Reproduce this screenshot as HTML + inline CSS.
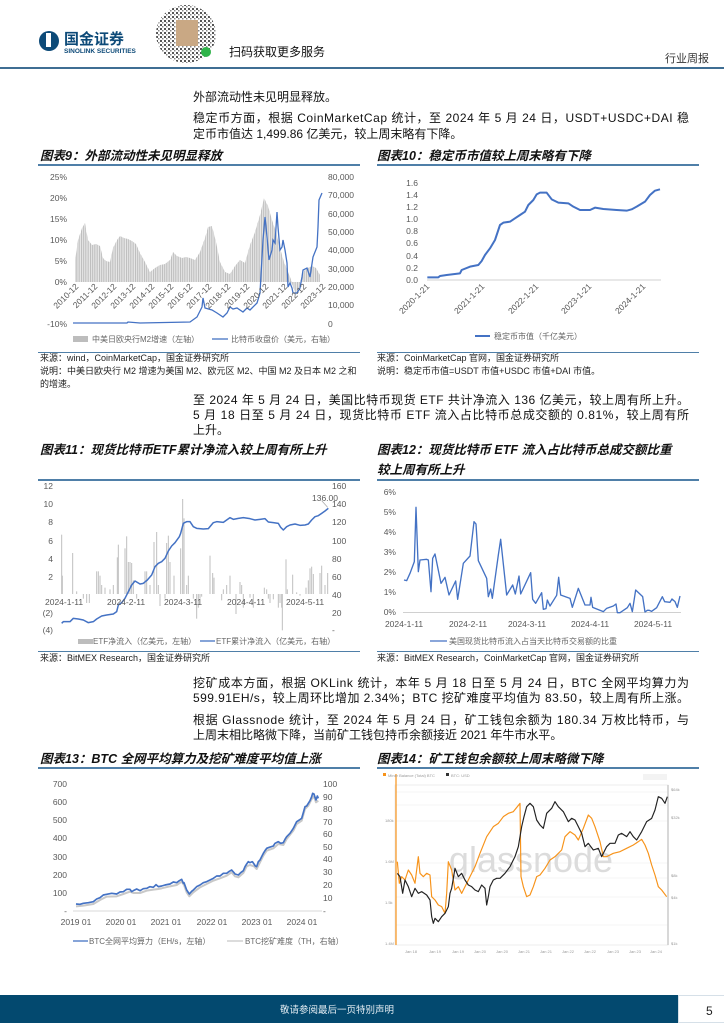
<!DOCTYPE html>
<html><head><meta charset="utf-8"><style>
html,body{margin:0;padding:0;background:#fff;}
svg{display:block;}
.t{font-family:"Liberation Sans","Noto Sans CJK SC",sans-serif;}
.b{font-size:12px;fill:#111;}
.h{font-size:12.5px;font-weight:bold;font-style:italic;fill:#111;}
.ax{font-size:8.5px;fill:#595959;}
.s{font-size:9px;fill:#222;}
.lg{font-size:8px;fill:#666;}
</style></head><body>
<svg width="724" height="1024" viewBox="0 0 724 1024" xmlns="http://www.w3.org/2000/svg" class="t">
<defs>
<pattern id="bars" width="1.8" height="10" patternUnits="userSpaceOnUse"><rect x="0" y="0" width="1.2" height="10" fill="#bdbdbd"/></pattern>
<pattern id="qr" width="4" height="4" patternUnits="userSpaceOnUse"><rect x="0" y="0" width="2" height="2" fill="#555"/><rect x="2" y="2" width="1.5" height="1.5" fill="#888"/></pattern>
</defs>
<!-- header -->
<circle cx="49" cy="41" r="10" fill="#0d4a78"/>
<rect x="46" y="33" width="5" height="14" fill="#fff"/>
<text x="64" y="44" font-size="15" font-weight="bold" fill="#0d4a78">国金证券</text>
<text x="64" y="53" font-size="6.5" font-weight="bold" fill="#0d4a78">SINOLINK SECURITIES</text>
<ellipse cx="186" cy="34" rx="30" ry="29" fill="url(#qr)"/>
<rect x="176" y="20" width="22" height="26" fill="#c9a884"/>
<circle cx="206" cy="52" r="5" fill="#2fb44a"/>
<text x="229" y="56" font-size="12" fill="#111">扫码获取更多服务</text>
<text x="665" y="62" font-size="11" fill="#333">行业周报</text>
<rect x="0" y="67" width="724" height="2" fill="#3f6e93"/>

<!-- para 1 -->
<text x="193" y="101" class="b">外部流动性未见明显释放。</text>
<text x="193" y="122" class="b" textLength="496" lengthAdjust="spacing">稳定币方面，根据 CoinMarketCap 统计，至 2024 年 5 月 24 日，USDT+USDC+DAI 稳</text>
<text x="193" y="138" class="b">定币市值达 1,499.86 亿美元，较上周末略有下降。</text>

<!-- titles 9/10 -->
<text x="40" y="160" class="h">图表9：外部流动性未见明显释放</text>
<text x="377" y="160" class="h">图表10：稳定币市值较上周末略有下降</text>
<rect x="38" y="164" width="322" height="2" fill="#4f7fa8"/>
<rect x="377" y="164" width="322" height="2" fill="#4f7fa8"/>

<!-- chart 9 -->
<polygon fill="url(#bars)" points="75,282 75,261 78,240 82,228 85,223 88,240 92,245 96,244 100,246 103,258 106,261 110,262 113,248 117,240 120,236 124,238 128,239 132,241 136,244 140,253 145,262 150,272 155,268 160,265 165,264 170,260 173,252 177,256 182,258 186,257 190,258 195,260 200,252 205,238 208,227 212,226 216,242 220,262 225,272 230,274 235,266 240,260 245,263 250,245 255,232 260,215 264,198 268,206 272,220 276,232 280,248 284,262 288,272 292,282 320,282 320,275 316,268 312,266 308,268 304,271 300,282"/>
<polygon fill="url(#bars)" points="290,282 292,284 296,295 300,285 300,282"/>
<polyline fill="none" stroke="#4472c4" stroke-width="1.3" points="73,323 127,323 128,322 140,323 190,322 197,317 202,307 203,298 205,308 212,310 217,313 223,317 227,313 230,307 233,309 237,308 243,312 247,308 250,310 257,303 260,293 263,240 265,217 267,237 269,260 272,250 273,240 275,243 277,212 278,227 280,250 282,247 283,240 285,250 287,263 288,287 290,283 292,288 293,293 297,293 300,288 302,277 303,270 307,268 310,277 313,257 317,247 318,227 319,200 322,193"/>
<g class="ax" text-anchor="end">
<text x="67" y="180">25%</text><text x="67" y="201">20%</text><text x="67" y="222">15%</text><text x="67" y="243">10%</text><text x="67" y="264">5%</text><text x="67" y="285">0%</text><text x="67" y="327">-10%</text>
</g>
<g class="ax">
<text x="328" y="180">80,000</text><text x="328" y="198">70,000</text><text x="328" y="217">60,000</text><text x="328" y="235">50,000</text><text x="328" y="253">40,000</text><text x="328" y="272">30,000</text><text x="328" y="290">20,000</text><text x="328" y="308">10,000</text><text x="328" y="327">0</text>
</g>
<g class="ax" text-anchor="end" font-size="8">
<text transform="translate(79,287) rotate(-45)">2010-12</text>
<text transform="translate(98,287) rotate(-45)">2011-12</text>
<text transform="translate(117,287) rotate(-45)">2012-12</text>
<text transform="translate(136,287) rotate(-45)">2013-12</text>
<text transform="translate(155,287) rotate(-45)">2014-12</text>
<text transform="translate(174,287) rotate(-45)">2015-12</text>
<text transform="translate(193,287) rotate(-45)">2016-12</text>
<text transform="translate(212,287) rotate(-45)">2017-12</text>
<text transform="translate(231,287) rotate(-45)">2018-12</text>
<text transform="translate(250,287) rotate(-45)">2019-12</text>
<text transform="translate(269,287) rotate(-45)">2020-12</text>
<text transform="translate(288,287) rotate(-45)">2021-12</text>
<text transform="translate(307,287) rotate(-45)">2022-12</text>
<text transform="translate(326,287) rotate(-45)">2023-12</text>
</g>
<rect x="73" y="336" width="15" height="6" fill="#bdbdbd"/>
<text x="92" y="342" class="lg">中美日欧央行M2增速（左轴）</text>
<line x1="212" y1="339" x2="228" y2="339" stroke="#4472c4" stroke-width="1.3"/>
<text x="231" y="342" class="lg">比特币收盘价（美元，右轴）</text>
<rect x="38" y="352" width="322" height="1" fill="#4f7fa8"/>
<text x="40" y="361" class="s">来源：wind，CoinMarketCap，国金证券研究所</text>
<text x="40" y="374" class="s">说明：中美日欧央行 M2 增速为美国 M2、欧元区 M2、中国 M2 及日本 M2 之和</text>
<text x="40" y="387" class="s">的增速。</text>

<!-- chart 10 -->
<line x1="427" y1="280" x2="661" y2="280" stroke="#d0d0d0" stroke-width="1"/>
<g class="ax" text-anchor="end" font-size="9.5">
<text x="418" y="186">1.6</text><text x="418" y="198">1.4</text><text x="418" y="210">1.2</text><text x="418" y="222">1.0</text><text x="418" y="234">0.8</text><text x="418" y="246">0.6</text><text x="418" y="259">0.4</text><text x="418" y="271">0.2</text><text x="418" y="283">0.0</text>
</g>
<g class="ax" text-anchor="end" font-size="9">
<text transform="translate(430,287) rotate(-45)">2020-1-21</text>
<text transform="translate(485,287) rotate(-45)">2021-1-21</text>
<text transform="translate(539,287) rotate(-45)">2022-1-21</text>
<text transform="translate(592,287) rotate(-45)">2023-1-21</text>
<text transform="translate(646,287) rotate(-45)">2024-1-21</text>
</g>
<g transform="translate(370,160) scale(0.33333)">
<polyline fill="none" stroke="#4472c4" stroke-width="6" stroke-linejoin="round" points="172,352 205,352 210,348 230,345 270,340 275,330 300,320 325,315 335,303 345,285 360,265 375,240 385,210 390,195 400,188 420,185 435,175 450,165 465,155 475,135 490,120 500,103 510,98 530,98 545,118 565,128 595,130 610,140 630,150 660,150 675,143 700,147 740,150 770,152 785,148 800,140 825,125 840,105 855,92 870,88"/>
</g>
<line x1="475" y1="336" x2="490" y2="336" stroke="#4472c4" stroke-width="2"/>
<text x="494" y="339" class="lg" font-size="8.5">稳定币市值（千亿美元）</text>
<rect x="377" y="352" width="322" height="1" fill="#4f7fa8"/>
<text x="377" y="361" class="s">来源：CoinMarketCap 官网，国金证券研究所</text>
<text x="377" y="374" class="s">说明：稳定币市值=USDT 市值+USDC 市值+DAI 市值。</text>

<!-- para 2 -->
<text x="193" y="404" class="b" textLength="496" lengthAdjust="spacing">至 2024 年 5 月 24 日，美国比特币现货 ETF 共计净流入 136 亿美元，较上周有所上升。</text>
<text x="193" y="419" class="b" textLength="496" lengthAdjust="spacing">5 月 18 日至 5 月 24 日，现货比特币 ETF 流入占比特币总成交额的 0.81%，较上周有所</text>
<text x="193" y="434" class="b">上升。</text>

<text x="40" y="454" class="h">图表11：现货比特币ETF累计净流入较上周有所上升</text>
<text x="377" y="454" class="h">图表12：现货比特币 ETF 流入占比特币总成交额比重</text>
<text x="377" y="474" class="h">较上周有所上升</text>
<rect x="38" y="479" width="322" height="2" fill="#4f7fa8"/>
<rect x="377" y="479" width="322" height="2" fill="#4f7fa8"/>

<!-- chart 11 -->
<g transform="translate(30,470) scale(0.33333)" stroke="#bfbfbf" stroke-width="3">
<line x1="95" y1="372" x2="95" y2="194"/><line x1="97" y1="372" x2="97" y2="317"/><line x1="128" y1="372" x2="128" y2="249"/><line x1="140" y1="372" x2="140" y2="364"/><line x1="160" y1="372" x2="160" y2="386"/><line x1="170" y1="372" x2="170" y2="399"/><line x1="178" y1="372" x2="178" y2="399"/><line x1="200" y1="372" x2="200" y2="304"/><line x1="205" y1="372" x2="205" y2="304"/><line x1="210" y1="372" x2="210" y2="317"/><line x1="215" y1="372" x2="215" y2="345"/><line x1="225" y1="372" x2="225" y2="353"/><line x1="240" y1="372" x2="240" y2="358"/><line x1="250" y1="372" x2="250" y2="345"/><line x1="262" y1="372" x2="262" y2="262"/><line x1="265" y1="372" x2="265" y2="224"/><line x1="285" y1="372" x2="285" y2="235"/><line x1="290" y1="372" x2="290" y2="199"/><line x1="295" y1="372" x2="295" y2="276"/><line x1="300" y1="372" x2="300" y2="276"/><line x1="305" y1="372" x2="305" y2="279"/><line x1="310" y1="372" x2="310" y2="331"/><line x1="320" y1="372" x2="320" y2="386"/><line x1="345" y1="372" x2="345" y2="304"/><line x1="350" y1="372" x2="350" y2="304"/><line x1="360" y1="372" x2="360" y2="345"/><line x1="372" y1="372" x2="372" y2="216"/><line x1="380" y1="372" x2="380" y2="186"/><line x1="385" y1="372" x2="385" y2="345"/><line x1="390" y1="372" x2="390" y2="408"/><line x1="405" y1="372" x2="405" y2="386"/><line x1="410" y1="372" x2="410" y2="219"/><line x1="415" y1="372" x2="415" y2="197"/><line x1="420" y1="372" x2="420" y2="276"/><line x1="432" y1="372" x2="432" y2="317"/><line x1="452" y1="372" x2="452" y2="235"/><line x1="458" y1="372" x2="458" y2="87"/><line x1="462" y1="372" x2="462" y2="145"/><line x1="470" y1="372" x2="470" y2="345"/><line x1="475" y1="372" x2="475" y2="317"/><line x1="490" y1="372" x2="490" y2="386"/><line x1="500" y1="372" x2="500" y2="446"/><line x1="505" y1="372" x2="505" y2="413"/><line x1="510" y1="372" x2="510" y2="386"/><line x1="515" y1="372" x2="515" y2="380"/><line x1="540" y1="372" x2="540" y2="257"/><line x1="548" y1="372" x2="548" y2="309"/><line x1="552" y1="372" x2="552" y2="323"/><line x1="575" y1="372" x2="575" y2="391"/><line x1="580" y1="372" x2="580" y2="358"/><line x1="590" y1="372" x2="590" y2="345"/><line x1="600" y1="372" x2="600" y2="317"/><line x1="618" y1="372" x2="618" y2="432"/><line x1="630" y1="372" x2="630" y2="336"/><line x1="635" y1="372" x2="635" y2="345"/><line x1="640" y1="372" x2="640" y2="413"/><line x1="660" y1="372" x2="660" y2="383"/><line x1="670" y1="372" x2="670" y2="413"/><line x1="703" y1="372" x2="703" y2="353"/><line x1="710" y1="372" x2="710" y2="358"/><line x1="715" y1="372" x2="715" y2="386"/><line x1="720" y1="372" x2="720" y2="399"/><line x1="730" y1="372" x2="730" y2="388"/><line x1="745" y1="372" x2="745" y2="413"/><line x1="750" y1="372" x2="750" y2="399"/><line x1="755" y1="372" x2="755" y2="413"/><line x1="757" y1="372" x2="757" y2="481"/><line x1="768" y1="372" x2="768" y2="268"/><line x1="772" y1="372" x2="772" y2="358"/><line x1="788" y1="372" x2="788" y2="314"/><line x1="800" y1="372" x2="800" y2="367"/><line x1="810" y1="372" x2="810" y2="377"/><line x1="828" y1="372" x2="828" y2="353"/><line x1="835" y1="372" x2="835" y2="331"/><line x1="840" y1="372" x2="840" y2="295"/><line x1="845" y1="372" x2="845" y2="290"/><line x1="850" y1="372" x2="850" y2="312"/><line x1="870" y1="372" x2="870" y2="309"/><line x1="875" y1="372" x2="875" y2="287"/><line x1="885" y1="372" x2="885" y2="345"/><line x1="893" y1="372" x2="893" y2="309"/>
<polyline fill="none" stroke="#4472c4" stroke-width="4.5" stroke-linejoin="round" points="95,460 100,455 120,455 130,445 145,447 160,450 175,458 190,455 200,447 215,438 230,435 250,432 260,425 265,405 275,398 285,385 295,365 305,345 315,333 330,342 340,340 352,330 365,315 375,290 385,280 395,275 405,265 415,243 425,228 435,218 448,200 452,190 460,160 470,155 480,155 490,170 500,175 520,177 535,176 550,158 560,155 580,157 590,150 600,143 610,148 625,145 640,143 660,146 675,150 690,148 705,146 715,156 730,158 745,160 752,172 760,180 770,170 780,165 795,162 810,166 825,165 835,162 845,150 855,140 865,137 875,130 885,123 895,115"/>
<line x1="875" y1="92" x2="893" y2="112" stroke="#999" stroke-width="2"/>
</g>
<text x="312" y="501" class="ax" font-size="8">136.00</text>
<g class="ax" text-anchor="end" font-size="8">
<text x="53" y="489">12</text><text x="53" y="507">10</text><text x="53" y="525">8</text><text x="53" y="544">6</text><text x="53" y="562">4</text><text x="53" y="580">2</text><text x="53" y="616">(2)</text><text x="53" y="633">(4)</text>
</g>
<g class="ax" font-size="8">
<text x="332" y="489">160</text><text x="332" y="507">140</text><text x="332" y="525">120</text><text x="332" y="544">100</text><text x="332" y="562">80</text><text x="332" y="580">60</text><text x="332" y="598">40</text><text x="332" y="616">20</text><text x="332" y="633">-</text>
<text x="45" y="605">2024-1-11</text><text x="107" y="605">2024-2-11</text><text x="164" y="605">2024-3-11</text><text x="227" y="605">2024-4-11</text><text x="286" y="605">2024-5-11</text>
</g>
<rect x="78" y="639" width="15" height="5" fill="#bdbdbd"/>
<text x="93" y="644" class="lg" font-size="7.5">ETF净流入（亿美元，左轴）</text>
<line x1="200" y1="641" x2="215" y2="641" stroke="#4472c4" stroke-width="1.3"/>
<text x="216" y="644" class="lg" font-size="7.5">ETF累计净流入（亿美元，右轴）</text>
<rect x="38" y="651" width="322" height="1" fill="#4f7fa8"/>
<text x="40" y="661" class="s">来源：BitMEX Research，国金证券研究所</text>

<!-- chart 12 -->
<line x1="403" y1="612.5" x2="681" y2="612.5" stroke="#d0d0d0"/>
<g class="ax" text-anchor="end" font-size="9">
<text x="396" y="495">6%</text><text x="396" y="515">5%</text><text x="396" y="535">4%</text><text x="396" y="555">3%</text><text x="396" y="575">2%</text><text x="396" y="595">1%</text><text x="396" y="615">0%</text>
</g>
<g class="ax" text-anchor="middle" font-size="9">
<text x="404" y="627">2024-1-11</text><text x="468" y="627">2024-2-11</text><text x="527" y="627">2024-3-11</text><text x="590" y="627">2024-4-11</text><text x="653" y="627">2024-5-11</text>
</g>
<g transform="translate(370,470) scale(0.33333)">
<polyline fill="none" stroke="#4472c4" stroke-width="4" stroke-linejoin="round" points="102,330 110,332 120,310 133,275 138,112 145,305 150,270 170,268 175,270 183,365 188,265 195,252 213,340 225,322 237,375 257,333 263,388 280,280 300,258 312,155 318,162 325,272 350,325 355,380 362,357 367,385 385,255 392,208 410,375 428,345 436,372 447,318 452,372 482,308 488,388 497,400 515,368 520,418 528,416 532,390 540,408 560,376 566,322 572,375 600,385 607,412 625,355 645,405 660,405 663,382 668,412 700,425 710,415 730,408 738,402 742,428 750,428 772,413 780,400 787,425 797,360 818,380 825,426 832,421 838,421 845,424 860,413 877,380 884,395 900,397 906,387 915,395 922,412 930,378"/>
</g>
<line x1="430" y1="641" x2="447" y2="641" stroke="#4472c4" stroke-width="1.3"/>
<text x="449" y="644" class="lg" font-size="8">美国现货比特币流入占当天比特币交易额的比重</text>
<rect x="377" y="651" width="322" height="1" fill="#4f7fa8"/>
<text x="377" y="661" class="s">来源：BitMEX Research，CoinMarketCap 官网，国金证券研究所</text>

<!-- para 3 -->
<text x="193" y="687" class="b" textLength="496" lengthAdjust="spacing">挖矿成本方面，根据 OKLink 统计，本年 5 月 18 日至 5 月 24 日，BTC 全网平均算力为</text>
<text x="193" y="702" class="b" textLength="496" lengthAdjust="spacing">599.91EH/s，较上周环比增加 2.34%；BTC 挖矿难度平均值为 83.50，较上周有所上涨。</text>
<text x="193" y="724" class="b" textLength="496" lengthAdjust="spacing">根据 Glassnode 统计，至 2024 年 5 月 24 日，矿工钱包余额为 180.34 万枚比特币，与</text>
<text x="193" y="739" class="b">上周末相比略微下降，当前矿工钱包持币余额接近 2021 年牛市水平。</text>

<text x="40" y="763" class="h">图表13：BTC 全网平均算力及挖矿难度平均值上涨</text>
<text x="377" y="763" class="h">图表14：矿工钱包余额较上周末略微下降</text>
<rect x="38" y="767" width="322" height="2" fill="#4f7fa8"/>
<rect x="377" y="767" width="322" height="2" fill="#4f7fa8"/>

<!-- chart 13 -->
<line x1="73" y1="911" x2="322" y2="911" stroke="#d9d9d9"/>
<g transform="translate(30,760) scale(0.33333)" fill="none" stroke-linejoin="round">
<polyline stroke="#c8c8c8" stroke-width="6" transform="translate(0,7)" points="138,432 160,430 190,425 210,413 230,403 260,402 280,395 300,388 310,392 330,392 350,385 370,382 385,380 395,378 420,372 440,368 455,358 462,368 470,390 478,402 490,390 510,375 530,365 550,355 570,348 590,340 605,330 615,342 625,345 640,332 650,312 660,308 672,312 680,320 690,300 700,280 710,265 730,258 745,245 760,248 770,230 790,205 800,185 815,175 825,140 835,130 845,110 852,102 858,120 865,115"/>
<polyline stroke="#4472c4" stroke-width="5" points="138,432 150,433 160,430 175,428 190,425 200,417 210,413 220,405 230,403 245,400 260,402 270,396 280,395 290,388 300,388 305,395 310,392 320,387 330,392 340,386 350,385 360,380 370,382 378,374 385,380 395,378 405,375 420,372 430,366 440,368 448,362 455,358 460,370 462,368 470,390 478,402 485,394 490,390 500,380 510,375 520,368 530,365 540,360 550,355 560,348 570,348 580,340 590,340 598,334 605,330 612,338 615,342 625,345 632,338 640,332 645,320 650,312 655,305 660,308 667,305 672,312 676,318 680,320 685,305 690,300 695,290 700,280 705,272 710,265 718,262 730,258 735,250 745,245 752,250 760,248 765,238 770,230 780,220 790,205 795,195 800,185 808,180 815,175 820,158 825,140 830,138 835,130 840,122 845,110 848,100 852,102 855,112 858,120 862,108 865,115"/>
</g>
<g class="ax" text-anchor="end" font-size="9.5">
<text x="67" y="787">700</text><text x="67" y="805">600</text><text x="67" y="823">500</text><text x="67" y="841">400</text><text x="67" y="860">300</text><text x="67" y="878">200</text><text x="67" y="896">100</text><text x="67" y="914">-</text>
</g>
<g class="ax" font-size="9.5">
<text x="323" y="787">100</text><text x="323" y="800">90</text><text x="323" y="812">80</text><text x="323" y="825">70</text><text x="323" y="837">60</text><text x="323" y="850">50</text><text x="323" y="862">40</text><text x="323" y="875">30</text><text x="323" y="888">20</text><text x="323" y="901">10</text><text x="323" y="914">-</text>
</g>
<g class="ax" text-anchor="middle" font-size="9.5">
<text x="76" y="925">2019 01</text><text x="121" y="925">2020 01</text><text x="166" y="925">2021 01</text><text x="212" y="925">2022 01</text><text x="257" y="925">2023 01</text><text x="302" y="925">2024 01</text>
</g>
<line x1="73" y1="941" x2="88" y2="941" stroke="#4472c4" stroke-width="1.3"/>
<text x="89" y="944" class="lg" font-size="8.5">BTC全网平均算力（EH/s，左轴）</text>
<line x1="227" y1="941" x2="243" y2="941" stroke="#c8c8c8" stroke-width="1.3"/>
<text x="245" y="944" class="lg" font-size="8.5">BTC挖矿难度（TH，右轴）</text>

<!-- chart 14 -->
<rect x="395" y="785" width="273" height="160" fill="#fff" stroke="#eee"/>
<g stroke="#f0f0f0" stroke-width="0.8">
<line x1="395" y1="792" x2="668" y2="792"/><line x1="395" y1="805" x2="668" y2="805"/><line x1="395" y1="821" x2="668" y2="821"/><line x1="395" y1="863" x2="668" y2="863"/><line x1="395" y1="878" x2="668" y2="878"/><line x1="395" y1="897" x2="668" y2="897"/><line x1="395" y1="925" x2="668" y2="925"/>
</g>
<line x1="668" y1="785" x2="668" y2="945" stroke="#ccc" stroke-width="1.5"/>
<text x="531" y="872" text-anchor="middle" font-size="36" fill="#dcdcdc">glassnode</text>
<line x1="396" y1="774" x2="396" y2="945" stroke="#f7931a" stroke-width="1.2"/>
<rect x="383" y="773" width="3" height="3" fill="#f7931a"/>
<text x="388" y="777" font-size="4" fill="#999">Miner Balance (Total) BTC</text>
<rect x="446" y="773" width="3" height="3" fill="#333"/>
<text x="451" y="777" font-size="4" fill="#999">BTC: USD</text>
<rect x="643" y="774" width="24" height="6" fill="#f3f3f3"/>
<g transform="translate(380,760) scale(0.33333)" fill="none" stroke-linejoin="round">
<polyline stroke="#f7931a" stroke-width="3.5" points="52,305 58,370 65,350 75,360 85,330 95,345 105,370 115,290 120,340 130,350 140,340 150,345 155,410 165,420 175,435 185,440 195,460 200,400 205,305 215,330 225,390 235,380 245,400 260,370 270,350 285,320 300,280 320,230 340,200 355,190 370,170 385,160 400,155 420,130 423,350 430,380 440,410 450,405 460,380 470,350 480,345 495,325 510,300 525,290 545,270 555,230 570,215 585,225 595,240 610,205 625,165 635,175 645,200 660,245 670,290 680,290 700,280 720,275 740,265 760,255 775,245 785,238 795,255 805,280 815,315 825,345 835,380 845,390 860,410"/>
<polyline stroke="#222" stroke-width="3.5" points="52,340 60,350 68,400 75,360 85,380 95,410 105,385 115,400 125,395 140,405 150,420 155,470 160,490 165,475 175,485 185,470 195,460 205,440 210,400 215,385 225,325 235,350 245,340 255,360 265,375 275,380 285,390 295,395 305,375 315,385 320,435 325,410 330,380 340,360 350,355 360,355 375,340 390,320 405,290 415,260 425,200 432,170 440,140 450,130 460,140 470,180 480,195 490,205 500,160 515,145 525,125 535,140 550,155 565,185 575,175 585,180 595,200 605,220 615,260 625,250 640,270 655,265 665,290 680,260 690,250 705,250 715,225 725,220 740,230 750,215 760,230 770,240 785,215 800,185 815,175 825,150 835,110 845,115 855,130 862,110"/>
</g>
<g font-size="4" fill="#999">
<text x="385" y="822">180k</text><text x="385" y="863">1.6M</text><text x="385" y="904">1.5k</text><text x="385" y="945">1.4M</text>
<text x="671" y="791">$64k</text><text x="671" y="819">$32k</text><text x="671" y="877">$8k</text><text x="671" y="899">$4k</text><text x="671" y="945">$1k</text>
<text x="405" y="953">Jan 18</text><text x="429" y="953">Jan 19</text><text x="452" y="953">Jan 19</text><text x="474" y="953">Jan 20</text><text x="496" y="953">Jan 20</text><text x="518" y="953">Jan 21</text><text x="540" y="953">Jan 21</text><text x="562" y="953">Jan 22</text><text x="584" y="953">Jan 22</text><text x="607" y="953">Jan 23</text><text x="629" y="953">Jan 23</text><text x="650" y="953">Jan 24</text>
</g>

<!-- footer -->
<rect x="0" y="995" width="678" height="28" fill="#03496f"/>
<rect x="678.5" y="995.5" width="46" height="27" fill="#fff" stroke="#d6e0e8"/>
<text x="337" y="1013" text-anchor="middle" font-size="9.5" fill="#e6eef4">敬请参阅最后一页特别声明</text>
<text x="706" y="1015" font-size="12" fill="#222">5</text>
</svg>
</body></html>
